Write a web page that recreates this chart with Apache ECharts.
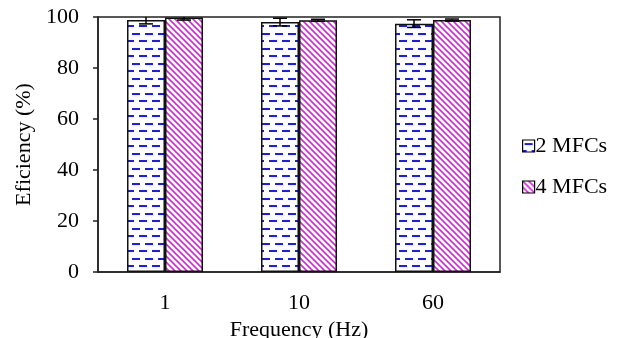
<!DOCTYPE html>
<html>
<head>
<meta charset="utf-8">
<script src="https://cdn.jsdelivr.net/npm/echarts@6/dist/echarts.min.js"></script>
<style>
  html, body { margin: 0; padding: 0; background: #fff; }
  #chart { width: 620px; height: 338px; }
</style>
</head>
<body>
<div id="chart"></div>
<script>
// data
const frequencies = ['1', '10', '60'];
const seriesNames = ['2 MFCs', '4 MFCs'];
const eff2 = [98.8, 98.0, 97.4];
const eff4 = [99.8, 98.7, 98.8];
const err2 = [1.5, 1.5, 1.5];
const err4 = [1.0, 0.4, 0.4];

const FONT = '"Liberation Serif", "Times New Roman", serif';
const FS = 22;

// blue dashes pattern (2 MFCs)
function dashPattern() {
  const c = document.createElement('canvas');
  c.width = 26; c.height = 15;
  const g = c.getContext('2d');
  g.fillStyle = '#fff';
  g.fillRect(0, 0, c.width, c.height);
  g.fillStyle = '#1a1aff';
  g.fillRect(2, 3, 8, 2);
  g.fillRect(15, 3, 8, 2);
  g.fillRect(-4, 10, 8, 2);
  g.fillRect(9, 10, 8, 2);
  g.fillRect(22, 10, 8, 2);
  return c;
}

// magenta diagonal stripes (4 MFCs)
function stripePattern() {
  const c = document.createElement('canvas');
  c.width = 6; c.height = 6;
  const g = c.getContext('2d');
  g.fillStyle = '#fff';
  g.fillRect(0, 0, 6, 6);
  g.strokeStyle = '#e21ee6';
  g.lineWidth = 1.6;
  g.beginPath();
  g.moveTo(-1, -1); g.lineTo(7, 7);
  g.moveTo(-7, -1); g.lineTo(1, 7);
  g.moveTo(5, -1); g.lineTo(13, 7);
  g.stroke();
  return c;
}

const fill2 = { image: dashPattern(), repeat: 'repeat' };
const fill4 = { image: stripePattern(), repeat: 'repeat' };

const BAR_W = 38;

function errorSeries(vals, errs, offset) {
  return {
    type: 'custom',
    silent: true,
    clip: true,
    z: 5,
    data: vals.map((v, i) => [i, v - errs[i], v + errs[i]]),
    renderItem: function (params, api) {
      const lo = api.coord([api.value(0), api.value(1)]);
      const hi = api.coord([api.value(0), api.value(2)]);
      const x = lo[0] + offset;
      const cap = 7;
      const style = { stroke: '#000', lineWidth: 1.5 };
      return {
        type: 'group',
        children: [
          { type: 'line', shape: { x1: x, y1: lo[1], x2: x, y2: hi[1] }, style },
          { type: 'line', shape: { x1: x - cap, y1: lo[1], x2: x + cap, y2: lo[1] }, style },
          { type: 'line', shape: { x1: x - cap, y1: hi[1], x2: x + cap, y2: hi[1] }, style }
        ]
      };
    }
  };
}

const chart = echarts.init(document.getElementById('chart'));
chart.setOption({
  backgroundColor: '#fff',
  animation: false,
  textStyle: { fontFamily: FONT, color: '#000' },
  grid: {
    left: 98, right: 120, top: 17, bottom: 66,
    outerBoundsMode: 'none',
    containLabel: false,
    show: true, borderColor: '#222', borderWidth: 1.5, backgroundColor: 'transparent'
  },
  legend: {
    orient: 'vertical',
    left: 517, top: 130,
    itemWidth: 12, itemHeight: 12,
    itemGap: 19,
    icon: 'rect',
    data: seriesNames,
    textStyle: { fontFamily: FONT, fontSize: FS, color: '#000', padding: [0, 0, 0, -4] },
    itemStyle: { borderColor: '#000', borderWidth: 1.2 }
  },
  xAxis: {
    type: 'category',
    data: frequencies,
    name: 'Frequency (Hz)',
    nameLocation: 'middle',
    nameGap: 41,
    nameTextStyle: { fontFamily: FONT, fontSize: FS, color: '#000' },
    axisLine: { lineStyle: { color: '#222', width: 1.5 } },
    axisTick: { show: false },
    axisLabel: { fontFamily: FONT, fontSize: FS, color: '#000', margin: 20 }
  },
  yAxis: {
    type: 'value',
    min: 0, max: 100, interval: 20,
    name: 'Eficiency (%)',
    nameLocation: 'middle',
    nameGap: 56,
    nameTextStyle: { fontFamily: FONT, fontSize: FS, color: '#000' },
    axisLine: { show: true, lineStyle: { color: '#222', width: 1.5 } },
    axisTick: { show: true, inside: false, length: 5, lineStyle: { color: '#222', width: 1.5 } },
    axisLabel: { fontFamily: FONT, fontSize: FS, color: '#000', margin: 19 },
    splitLine: { show: false }
  },
  series: [
    {
      name: seriesNames[0],
      type: 'bar',
      data: eff2,
      barWidth: BAR_W,
      barGap: '0%',
      itemStyle: { color: fill2, borderColor: '#111', borderWidth: 1.5 }
    },
    {
      name: seriesNames[1],
      type: 'bar',
      data: eff4,
      barWidth: BAR_W,
      barGap: '0%',
      itemStyle: { color: fill4, borderColor: '#111', borderWidth: 1.5 }
    },
    errorSeries(eff2, err2, -BAR_W / 2),
    errorSeries(eff4, err4, BAR_W / 2)
  ]
});
</script>
</body>
</html>
